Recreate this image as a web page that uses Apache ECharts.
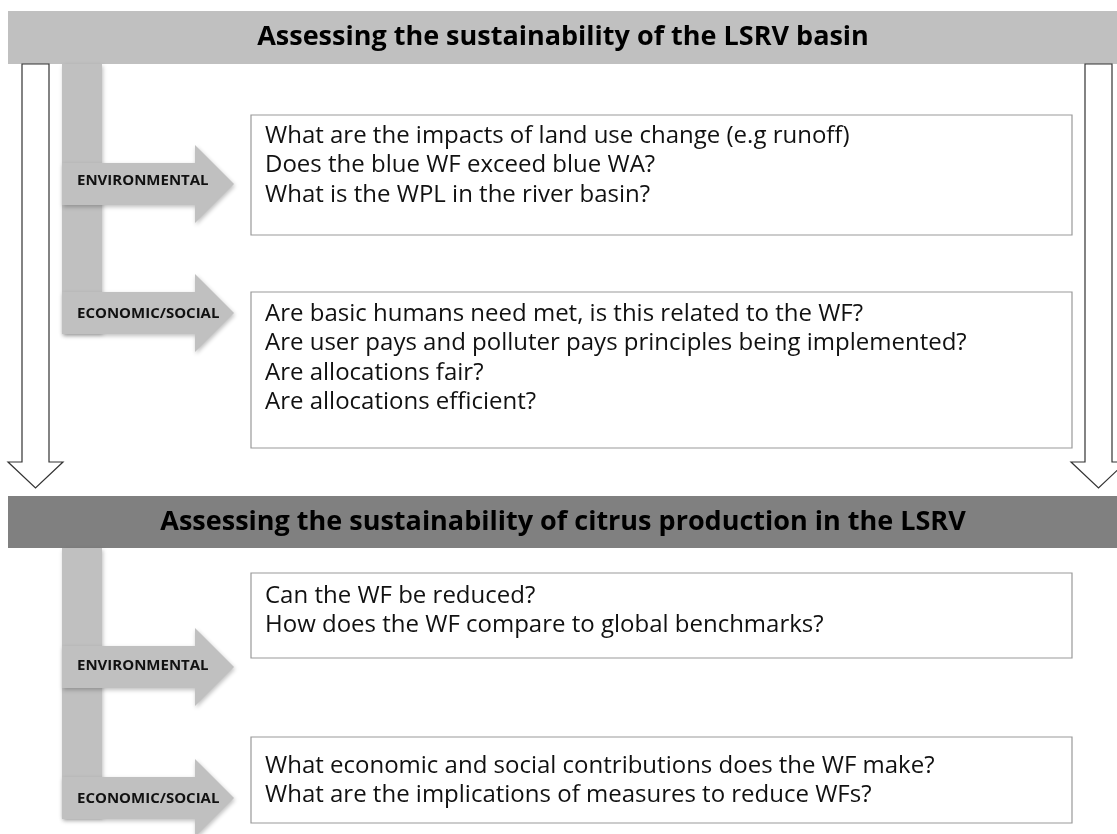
<!DOCTYPE html>
<html><head><meta charset="utf-8">
<script src="https://cdn.jsdelivr.net/npm/echarts@6/dist/echarts.min.js"></script>
<style>html,body{margin:0;padding:0;background:#fff}#c{width:1117px;height:834px}</style>
</head><body><div id="c"></div>
<script>
const sectionTitles = ["Assessing the sustainability of the LSRV basin", "Assessing the sustainability of citrus production in the LSRV"];
const branchLabels = ["ENVIRONMENTAL", "ECONOMIC/SOCIAL"];
const basinEnvQuestions = ["What are the impacts of land use change (e.g runoff)", "Does the blue WF exceed blue WA?", "What is the WPL in the river basin?"];
const basinEcoQuestions = ["Are basic humans need met, is this related to the WF?", "Are user pays and polluter pays principles being implemented?", "Are allocations fair?", "Are allocations efficient?"];
const citrusEnvQuestions = ["Can the WF be reduced?", "How does the WF compare to global benchmarks?"];
const citrusEcoQuestions = ["What economic and social contributions does the WF make?", "What are the implications of measures to reduce WFs?"];

const FONT = '"Open Sans", Lato, sans-serif';
const LIGHT = '#c0c0c0', DARK = '#808080';
const els = [];

function banner(y, h, color, text) {
  els.push({type:'rect', shape:{x:8,y:y,width:1109,height:h}, style:{fill:color}});
  els.push({type:'text', x:563, y:y+h/2, style:{text:text, fill:'#000', font:'bold 27px '+FONT, align:'center', verticalAlign:'middle'}});
}
function hollowDown(cx, top, shaftBottom, tip) {
  const sw = 13.5, hw = 27.5;
  els.push({type:'polygon', shape:{points:[[cx-sw,top],[cx+sw,top],[cx+sw,shaftBottom],[cx+hw,shaftBottom],[cx,tip],[cx-hw,shaftBottom],[cx-sw,shaftBottom]]},
    style:{fill:'#fff', stroke:'#333', lineWidth:1.2}});
}
function bracket(top, arrows, barBottom) {
  els.push({type:'rect', shape:{x:62,y:top,width:40,height:barBottom-top}, style:{fill:LIGHT, shadowBlur:4, shadowColor:'rgba(0,0,0,0.25)', shadowOffsetX:1, shadowOffsetY:2}, z:1});
  arrows.forEach(a => {
    const cy = a.cy, sh = 21, hh = 39;
    els.push({type:'polygon', shape:{points:[[62,cy-sh],[195,cy-sh],[195,cy-hh],[234,cy],[195,cy+hh],[195,cy+sh],[62,cy+sh]]},
      style:{fill:LIGHT, shadowBlur:4, shadowColor:'rgba(0,0,0,0.25)', shadowOffsetX:1, shadowOffsetY:2}, z:1});
    els.push({type:'text', x:77, y:a.ly, style:{text:a.label, fill:'#111', font:'bold 15px '+FONT, align:'left', verticalAlign:'middle'}, z:3});
  });
}
function qbox(top, bottom, lines, firstY, step) {
  els.push({type:'rect', shape:{x:251,y:top,width:821,height:bottom-top}, style:{fill:'#fff', stroke:'#999', lineWidth:1.2}, z:2});
  lines.forEach((t,i) => {
    els.push({type:'text', x:265, y:firstY + i*step, style:{text:t, fill:'#111', font:'24px '+FONT, align:'left', verticalAlign:'middle'}, z:3});
  });
}

banner(11, 53, LIGHT, sectionTitles[0]);
hollowDown(35.5, 64, 462, 488);
hollowDown(1098.5, 64, 462, 488);
banner(496, 52, DARK, sectionTitles[1]);

bracket(64, [{cy:184, ly:181, label:branchLabels[0]}, {cy:313, ly:314, label:branchLabels[1]}], 333);
qbox(115, 235, basinEnvQuestions, 136, 29.5);
qbox(292, 448, basinEcoQuestions, 314, 29.5);

bracket(548, [{cy:667, ly:666, label:branchLabels[0]}, {cy:798, ly:799, label:branchLabels[1]}], 817);
qbox(573, 658, citrusEnvQuestions, 596, 29.5);
qbox(737, 823, citrusEcoQuestions, 766, 29.5);

const chart = echarts.init(document.getElementById('c'), null, {renderer:'canvas'});
chart.setOption({backgroundColor:'#fff', animation:false, graphic:{elements:els}});
</script></body></html>
